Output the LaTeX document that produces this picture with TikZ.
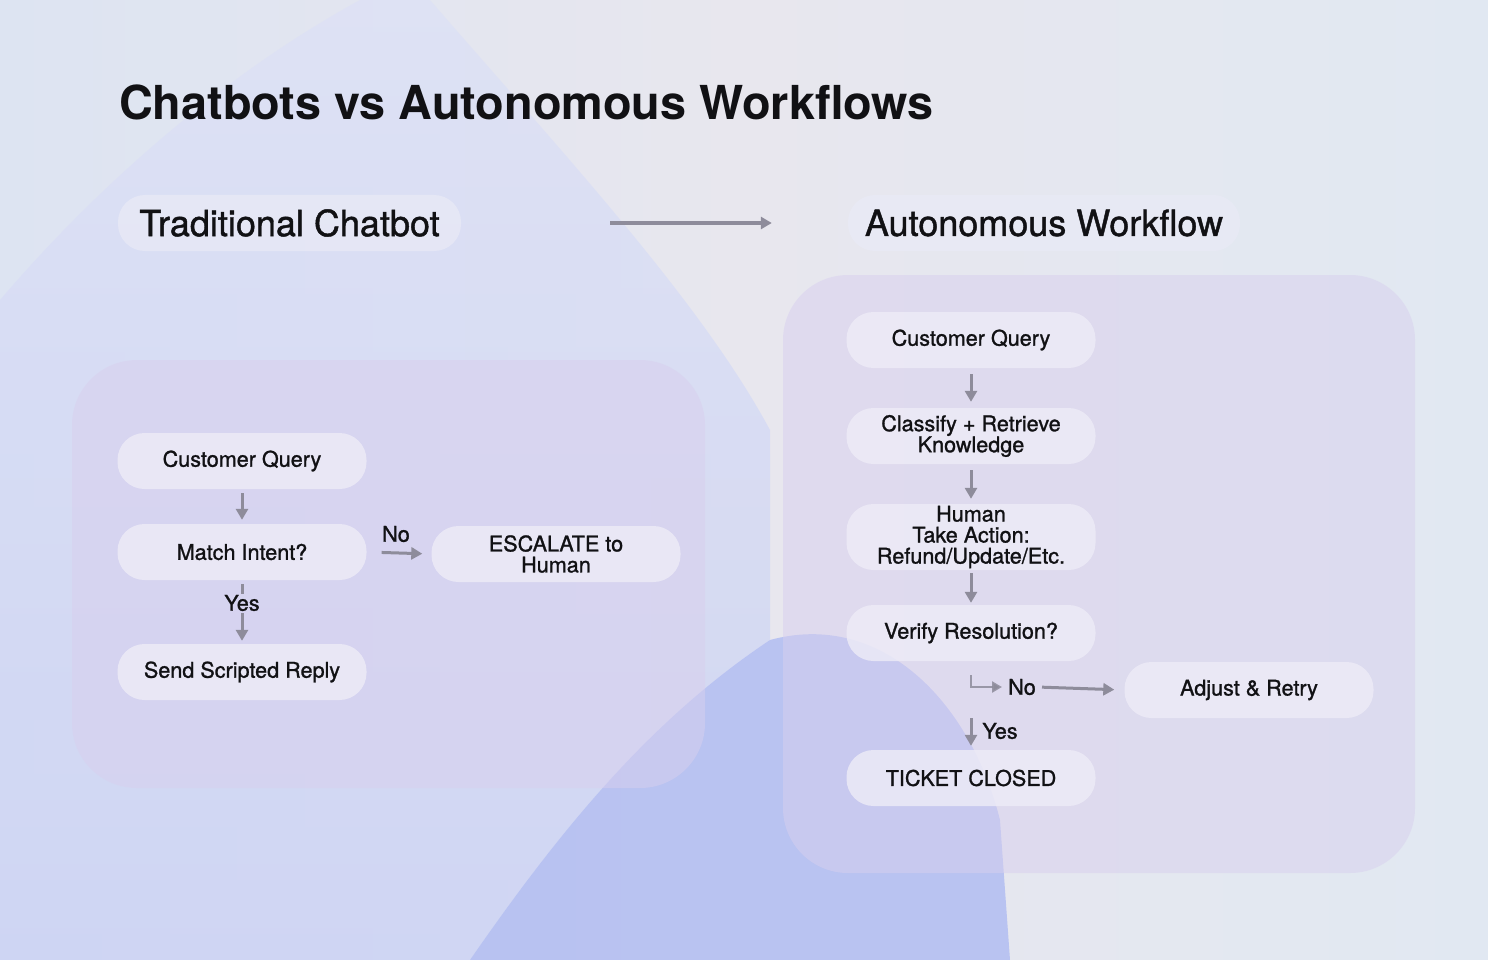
\documentclass[tikz,border=0pt]{standalone}
\usepackage{fontspec}
\setmainfont{TeX Gyre Heros}
\newfontfamily\medfont{TeX Gyre Heros}[FakeBold=1.2]
\usetikzlibrary{arrows.meta,calc}
\definecolor{txt}{HTML}{111114}
\definecolor{arrc}{HTML}{8E8C9B}
\definecolor{nodefill}{HTML}{EEECF7}
\definecolor{boxfill}{HTML}{D8CFEE}
\definecolor{pillfill}{HTML}{E9EAF6}
\definecolor{bgL}{HTML}{DDE4F2}
\definecolor{bgM}{HTML}{E8E7EE}
\definecolor{bgR}{HTML}{E1E8F2}
\definecolor{tearTop}{HTML}{DDE1F5}
\definecolor{tearBot}{HTML}{CBD2F4}
\definecolor{blueblob}{HTML}{A6B4F3}
\tikzset{
  flowbox/.style={rounded corners=27pt, fill=nodefill, fill opacity=0.8, text opacity=1,
    minimum width=249pt, minimum height=56pt, align=center, text=txt,
    font=\medfont\fontsize{21.6}{21}\selectfont, inner sep=0pt},
  pill/.style={rounded corners=27pt, fill=pillfill, fill opacity=0.75, text opacity=1,
    minimum height=56pt, align=center, text=txt, font=\medfont\fontsize{36}{36}\selectfont, inner sep=0pt},
  lbl/.style={text=txt, font=\medfont\fontsize{21.6}{21}\selectfont, inner sep=1pt},
  arr/.style={draw=arrc, line width=3pt, -{Triangle[length=11pt,width=12pt]}},
  plain/.style={draw=arrc, line width=3pt},
  container/.style={rounded corners=65pt, fill=boxfill, fill opacity=0.5}
}
\begin{document}
\begin{tikzpicture}[x=1pt,y=-1pt]
% ---------- background ----------
\useasboundingbox (0,0) rectangle (1488,960);
\shade[left color=bgL, right color=bgR, middle color=bgM] (0,0) rectangle (1488,960);
% left pale-blue region
\shade[top color=tearTop, bottom color=tearBot, opacity=0.8]
  (0,300) .. controls (120,160) and (250,60) .. (360,0) -- (430,0)
  .. controls (560,150) and (700,300) .. (770,430) -- (770,640)
  .. controls (650,720) and (560,830) .. (470,960) -- (0,960) -- cycle;
% blue blob bottom centre
\fill[blueblob, opacity=0.7]
  (470,960) .. controls (560,830) and (650,720) .. (770,640)
  .. controls (880,610) and (970,700) .. (1000,820) -- (1010,960) -- cycle;

% ---------- title ----------
\node[anchor=base west, inner sep=0pt, text=txt, font=\fontsize{46.8}{46}\selectfont\bfseries] (title) at (119,120) {Chatbots vs Autonomous Workflows};

% ---------- headings ----------
\node[pill, minimum width=343pt] (hleft) at (289.5,223) {Traditional Chatbot};
\node[pill, minimum width=392pt] (hright) at (1044,223) {Autonomous Workflow};
\draw[arr, shorten <=149pt, shorten >=76pt] (hleft.east) -- (hright.west);

% ---------- containers ----------
\fill[container] (72,360) rectangle (705,788);
\fill[container] (783,275) rectangle (1415,873);

% ---------- left flow ----------
\node[flowbox] (lcq) at (242,461) {Customer Query};
\node[flowbox] (lmi) at (242,552) {Match Intent?};
\node[flowbox] (lesc) at (556,554) {ESCALATE to\\Human};
\node[flowbox] (lssr) at (242,672) {Send Scripted Reply};
\node[lbl] (lno) at (396,534) {No};
\node[lbl] (lyes) at (242,603) {Yes};

\draw[arr, shorten <=4pt, shorten >=4pt] (lcq.south) -- (lmi.north);
\draw[arr, shorten <=15pt, shorten >=9pt] (lmi.east) -- (lesc.west);
\draw[plain, shorten <=4pt, shorten >=0pt] (lmi.south) -- (lyes.north);
\draw[arr, shorten <=1pt, shorten >=3pt] (lyes.south) -- (lssr.north);

% ---------- right flow ----------
\node[flowbox] (rcq) at (971,340) {Customer Query};
\node[flowbox] (rcrk) at (971,436) {Classify + Retrieve\\Knowledge};
\node[flowbox, minimum height=66pt] (rhta) at (971,537) {Human\\Take Action:\\Refund/Update/Etc.};
\node[flowbox] (rvr) at (971,633) {Verify Resolution?};
\node[flowbox] (rtc) at (971,778) {TICKET CLOSED};
\node[flowbox] (radj) at (1249,690) {Adjust \& Retry};
\node[lbl] (rno) at (1022,687) {No};
\node[lbl] (ryes) at (1000,731) {Yes};
\coordinate (rsplit) at ($(rvr.south)+(0,14)$);
\coordinate (ryesstart) at ($(rvr.south)+(0,57)$);

\draw[arr, shorten <=6pt, shorten >=6pt] (rcq.south) -- (rcrk.north);
\draw[arr, shorten <=6pt, shorten >=5pt] (rcrk.south) -- (rhta.north);
\draw[arr, shorten <=3pt, shorten >=2pt] (rhta.south) -- (rvr.north);
\draw[draw=arrc, line width=2.5pt, draw opacity=0.85, -{Triangle[length=10pt,width=11pt]}, shorten >=5pt] (rsplit) |- (rno.west);
\draw[arr, shorten <=5pt, shorten >=10pt] (rno.east) -- (radj.west);
\draw[arr, shorten >=4pt] (ryesstart) -- (rtc.north);
\end{tikzpicture}
\end{document}
